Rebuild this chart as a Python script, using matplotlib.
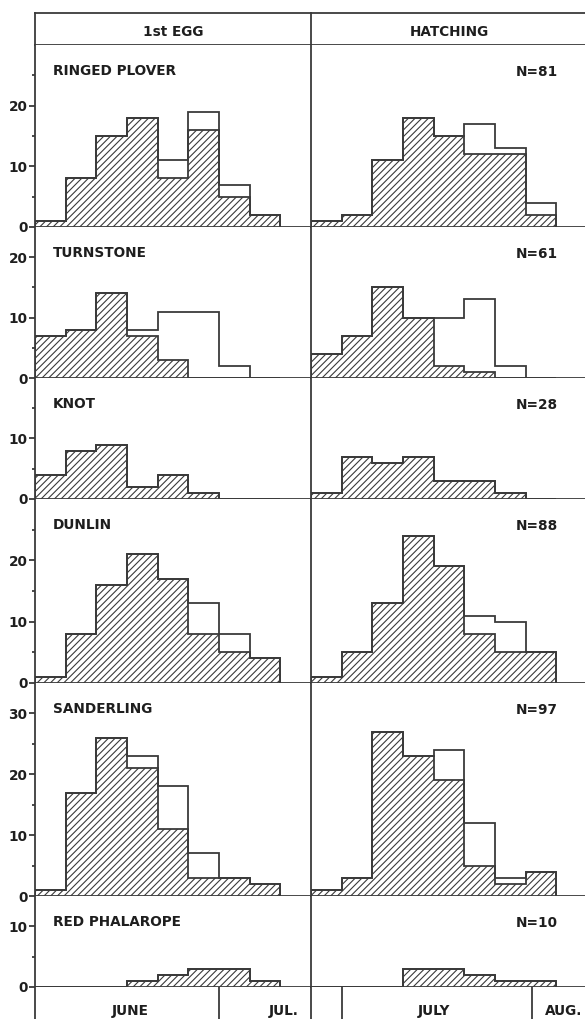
"""Timing of first egg and hatching for six wader species (5-day bins).

Hatched bars = nests with both dates known, open outline = all nests.
Left column: first egg date (from 1 June), right column: hatching date
(from 26 June). Writes out.png.
"""
import matplotlib

matplotlib.use("Agg")
import matplotlib.pyplot as plt
import numpy as np

SPECIES = ["RINGED PLOVER", "TURNSTONE", "KNOT", "DUNLIN", "SANDERLING",
           "RED PHALAROPE"]
N_LABELS = ["N=81", "N=61", "N=28", "N=88", "N=97", "N=10"]
Y_TOPS = [30, 25, 20, 30, 35, 15]

# 5-day bins, 8 per column
EDGES = np.arange(0, 45, 5)

EGG_HATCHED = [
    [1, 8, 15, 18, 8, 16, 5, 2],
    [7, 8, 14, 7, 3, 0, 0, 0],
    [4, 8, 9, 2, 4, 1, 0, 0],
    [1, 8, 16, 21, 17, 8, 5, 4],
    [1, 17, 26, 21, 11, 3, 3, 2],
    [0, 0, 0, 1, 2, 3, 3, 1],
]
EGG_TOTAL = [
    [1, 8, 15, 18, 11, 19, 7, 2],
    [7, 8, 14, 8, 11, 11, 2, 0],
    [4, 8, 9, 2, 4, 1, 0, 0],
    [1, 8, 16, 21, 17, 13, 8, 4],
    [1, 17, 26, 23, 18, 7, 3, 2],
    [0, 0, 0, 1, 2, 3, 3, 1],
]
HATCH_HATCHED = [
    [1, 2, 11, 18, 15, 12, 12, 2],
    [4, 7, 15, 10, 2, 1, 0, 0],
    [1, 7, 6, 7, 3, 3, 1, 0],
    [1, 5, 13, 24, 19, 8, 5, 5],
    [1, 3, 27, 23, 19, 5, 2, 4],
    [0, 0, 0, 3, 3, 2, 1, 1],
]
HATCH_TOTAL = [
    [1, 2, 11, 18, 15, 17, 13, 4],
    [4, 7, 15, 10, 10, 13, 2, 0],
    [1, 7, 6, 7, 3, 3, 1, 0],
    [1, 5, 13, 24, 19, 11, 10, 5],
    [1, 3, 27, 23, 24, 12, 3, 4],
    [0, 0, 0, 3, 3, 2, 1, 1],
]

# days from column start: left col starts 1 June, right col 26 June
MONTH_TICKS = {"egg": [30], "hatch": [5, 36]}
MONTH_LABELS = {"egg": [(15.5, "center", "JUNE"), (40.5, "center", "JUL.")],
                "hatch": [(20, "center", "JULY"), (44.3, "right", "AUG.")]}

INK = "#3a3a3a"
TXT = "#1e1e1e"
W, H = 585, 1019
FS = 9.8

plt.rcParams["font.family"] = ["DejaVu Sans"]
plt.rcParams["font.weight"] = "bold"
plt.rcParams["hatch.linewidth"] = 0.8
plt.rcParams["hatch.color"] = INK

fig = plt.figure(figsize=(W / 100, H / 100), dpi=100)


def px_axes(x0, y0, x1, y1):
    return fig.add_axes([x0 / W, 1 - y1 / H, (x1 - x0) / W, (y1 - y0) / H])


COLS = [(35, 311), (311, 587)]
ROWS = [45, 227, 378, 499, 683, 896, 987]
LW = 1.3


def style(ax, left=True):
    for s in ("top", "right", "bottom", "left"):
        ax.spines[s].set_visible(False)
    ax.spines["left"].set_visible(left)
    ax.spines["left"].set_color(INK)
    ax.spines["left"].set_linewidth(LW)


# header boxes
for (x0, x1), title in zip(COLS, ["1st EGG", "HATCHING"]):
    hx = px_axes(x0, 13, x1, 45)
    style(hx)
    for s in ("top", "bottom"):
        hx.spines[s].set_visible(True)
        hx.spines[s].set_color(INK)
        hx.spines[s].set_linewidth(LW)
    hx.set_xticks([])
    hx.set_yticks([])
    hx.text(0.5, 0.42, title, ha="center", va="center", fontsize=FS,
            color=TXT, transform=hx.transAxes)

for col, ((x0, x1), key) in enumerate(zip(COLS, ["egg", "hatch"])):
    hatched_all = EGG_HATCHED if key == "egg" else HATCH_HATCHED
    total_all = EGG_TOTAL if key == "egg" else HATCH_TOTAL
    for i in range(len(SPECIES)):
        top_px, bot_px = ROWS[i], ROWS[i + 1]
        hpx = bot_px - top_px
        ax = px_axes(x0, top_px, x1, bot_px)
        style(ax)
        ax.spines["bottom"].set_visible(True)
        ax.spines["bottom"].set_color(INK)
        ax.spines["bottom"].set_linewidth(LW)
        ax.set_xlim(0, 45)
        ax.set_ylim(0, Y_TOPS[i])

        ax.stairs(total_all[i], EDGES, color=INK, linewidth=LW, zorder=2)
        ax.stairs(hatched_all[i], EDGES, fill=True, hatch="/////",
                  facecolor="none", edgecolor=INK, linewidth=LW, zorder=3)

        # x ticks: month boundaries on every panel, 5-day ticks at the bottom
        if i == len(SPECIES) - 1:
            ax.set_xticks(sorted(set(list(EDGES[1:]) + MONTH_TICKS[key])))
        else:
            ax.set_xticks(MONTH_TICKS[key])
        ax.tick_params(axis="x", direction="out", length=3.8, width=LW,
                       color=INK, labelbottom=False)

        if col == 0:
            ax.set_yticks([t for t in (0, 10, 20, 30) if t < Y_TOPS[i]])
            ax.set_yticks([t for t in (5, 15, 25) if t < Y_TOPS[i]],
                          minor=True)
            ax.tick_params(axis="y", which="major", direction="out",
                           length=4.5, width=LW, color=INK, pad=1,
                           labelsize=FS, labelcolor=TXT)
            ax.tick_params(axis="y", which="minor", direction="out",
                           length=2.5, width=LW, color=INK)
            ax.text(18 / (x1 - x0), 1 - 26 / hpx, SPECIES[i], ha="left",
                    va="center", fontsize=FS, color=TXT,
                    transform=ax.transAxes)
        else:
            ax.set_yticks([])
            ax.text((558 - x0) / (x1 - x0), 1 - 27 / hpx, N_LABELS[i],
                    ha="right", va="center", fontsize=FS, color=TXT,
                    transform=ax.transAxes)

    # month label strip under the last panel
    mx = px_axes(x0, 987, x1, 1030)
    style(mx)
    mx.set_xlim(0, 45)
    mx.set_ylim(0, 1)
    mx.set_xticks([])
    mx.set_yticks([])
    for t in MONTH_TICKS[key]:
        mx.axvline(t, color=INK, linewidth=LW)
    for xpos, ha, lab in MONTH_LABELS[key]:
        mx.text(xpos, 0.45, lab, ha=ha, va="center", fontsize=FS,
                color=TXT)

fig.savefig("out.png", dpi=100)
